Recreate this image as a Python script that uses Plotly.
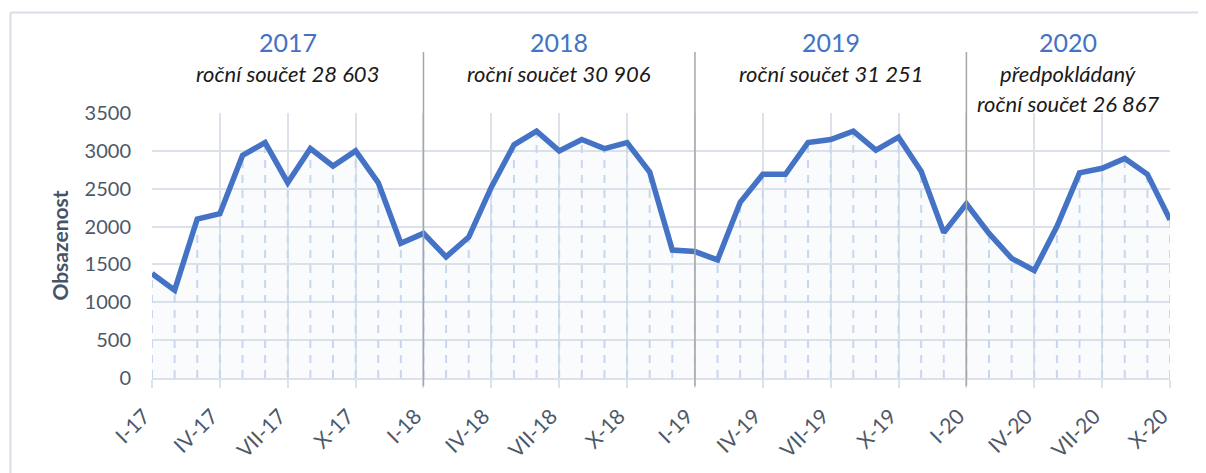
import plotly.graph_objects as go

# ---- data ----
years = ["2017", "2018", "2019", "2020"]
year_notes = [
    ["roční součet 28 603"],
    ["roční součet 30 906"],
    ["roční součet 31 251"],
    ["předpokládaný", "roční součet 26 867"],
]
months = ["I", "II", "III", "IV", "V", "VI", "VII", "VIII", "IX", "X", "XI", "XII"]
values_2017 = [1380, 1160, 2100, 2170, 2940, 3110, 2580, 3030, 2800, 3000, 2580, 1780]
values_2018 = [1910, 1600, 1860, 2520, 3080, 3260, 3000, 3150, 3030, 3110, 2720, 1690]
values_2019 = [1670, 1560, 2320, 2690, 2690, 3110, 3150, 3260, 3010, 3180, 2730, 1920]
values_2020 = [2300, 1910, 1580, 1420, 2000, 2710, 2770, 2900, 2690, 2090]
tick_months = ["I", "IV", "VII", "X"]

series = [values_2017, values_2018, values_2019, values_2020]

labels, values, year_start = [], [], []
for yr, vals in zip(years, series):
    year_start.append(len(values))
    for m, v in zip(months, vals):
        labels.append(f"{m}-{yr[2:]}")
        values.append(v)
x = list(range(len(values)))
n = len(values)

tickvals = [i for i, lab in enumerate(labels) if lab.split("-")[0] in tick_months]
ticktext = [labels[i] for i in tickvals]

# figure geometry (page has an 8px body margin)
W, H = 1198, 465
L, T = 144, 105
pw, ph = 1018, 265
R, B = W - L - pw, H - T - ph
PLOT_BOTTOM_SCREEN, PLOT_LEFT_SCREEN = 378, 152
def py(p):  # screen pixel y -> paper y
    return (PLOT_BOTTOM_SCREEN - p) / ph
def px(p):  # screen pixel x -> paper x
    return (p - PLOT_LEFT_SCREEN) / pw

TXT = "#4D5868"
FONT = "Lato"
GRID = "#DDE2EA"

fig = go.Figure()

# faint fill
fig.add_trace(go.Scatter(x=x, y=values, mode="lines", line=dict(width=0),
                         fill="tozeroy", fillcolor="rgba(197,214,240,0.10)",
                         hoverinfo="skip", showlegend=False))
# drop lines
dx, dy = [], []
for xi, v in zip(x, values):
    dx += [xi, xi, None]
    dy += [0, v, None]
fig.add_trace(go.Scatter(x=dx, y=dy, mode="lines",
                         line=dict(color="#C8D7F0", width=2, dash="8px,7px"),
                         hoverinfo="skip", showlegend=False))
# main line
fig.add_trace(go.Scatter(x=x, y=values, mode="lines",
                         line=dict(color="#4472C4", width=5.5),
                         text=labels, hovertemplate="%{text}: %{y}<extra></extra>",
                         showlegend=False))

shapes = []
# year separators
for s in year_start[1:]:
    shapes.append(dict(type="line", xref="x", yref="paper", x0=s, x1=s,
                       y0=py(386), y1=py(52), line=dict(color="#A6A6A6", width=1.5), layer="above"))
# outer frame (top and left edges; the rest lies outside the view)
shapes.append(dict(type="line", xref="paper", yref="paper",
                   x0=px(10.5), x1=px(1206), y0=py(12.5), y1=py(12.5),
                   line=dict(color="#D9DEE6", width=2), layer="below"))
shapes.append(dict(type="line", xref="paper", yref="paper",
                   x0=px(10.5), x1=px(10.5), y0=py(12.5), y1=py(473),
                   line=dict(color="#D9DEE6", width=2), layer="below"))

annotations = []
bounds = year_start[1:] + [n - 1]
for yr, notes, s, e in zip(years, year_notes, year_start, bounds):
    c = (s + e) / 2
    annotations.append(dict(x=c, y=py(42), xref="x", yref="paper", text=yr, showarrow=False,
                            font=dict(family=FONT, size=25, color="#4472C4"), yanchor="middle"))
    for k, line in enumerate(notes):
        annotations.append(dict(x=c, y=py(73 + 30 * k), xref="x", yref="paper", text=f"<i>{line}</i>",
                                showarrow=False, yanchor="middle",
                                font=dict(family=FONT, size=22, color="#1A1A1A")))

fig.update_layout(
    width=W, height=H, autosize=False,
    margin=dict(l=L, r=R, t=T, b=B),
    paper_bgcolor="white", plot_bgcolor="white",
    shapes=shapes, annotations=annotations,
    font=dict(family=FONT, color=TXT),
    xaxis=dict(range=[0, n - 1], tickmode="array", tickvals=tickvals, ticktext=ticktext,
               tickangle=-45, tickfont=dict(size=21, color=TXT, family=FONT),
               showgrid=True, gridcolor=GRID, gridwidth=1.5,
               ticks="outside", ticklen=8, tickcolor=GRID, tickwidth=1.5,
               ticklabelstandoff=8, ticklabelshift=-8,
               showline=True, linecolor=GRID, linewidth=1.5, zeroline=False),
    yaxis=dict(range=[0, 3500], dtick=500, tickfont=dict(size=20, color=TXT, family=FONT),
               showgrid=True, gridcolor=GRID, gridwidth=1.5, zeroline=False,
               ticks="", ticklabelstandoff=20,
               title=dict(text="<b>Obsazenost</b>", font=dict(size=21, color="#44546A", family=FONT),
                          standoff=10)),
)

fig.write_html("out.html")
